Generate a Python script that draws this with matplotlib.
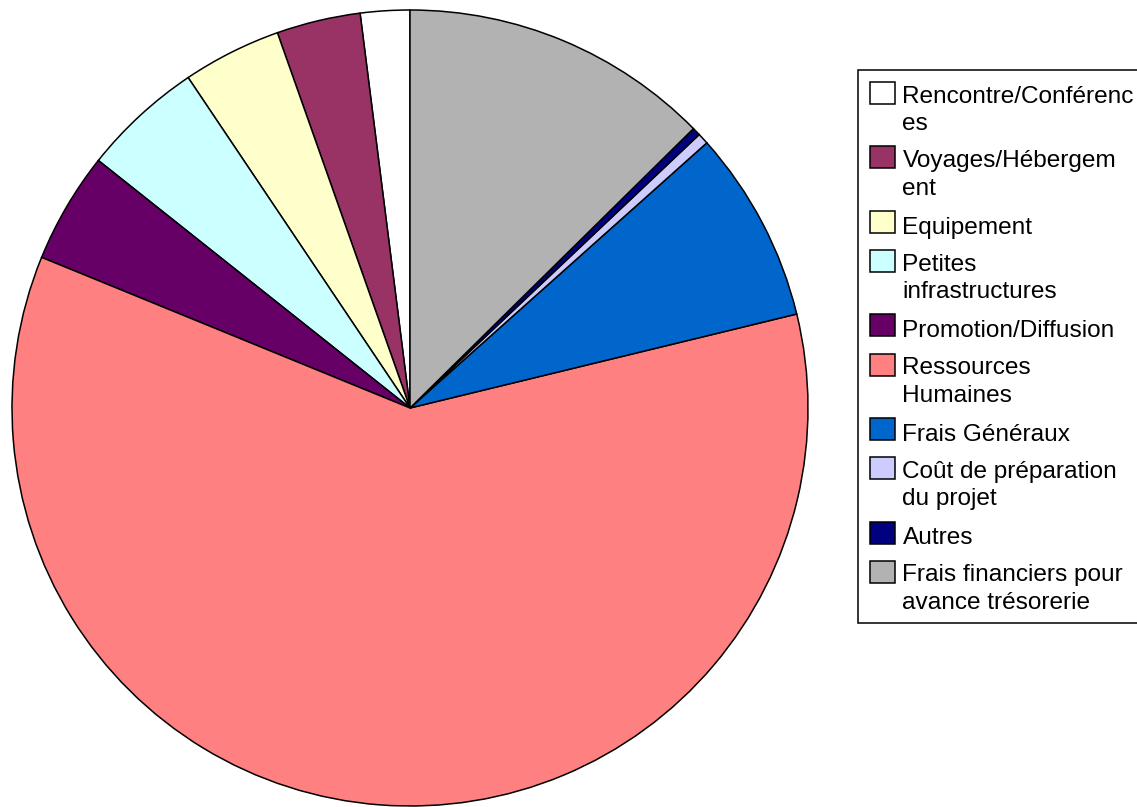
import matplotlib
matplotlib.use('Agg')
import matplotlib.pyplot as plt
from matplotlib.patches import Rectangle
from matplotlib.legend_handler import HandlerPatch

plt.rcParams['font.family'] = ['Liberation Sans', 'DejaVu Sans']

# postes de dépense, dans l'ordre de la légende
labels = ['Rencontre/Conférenc\nes', 'Voyages/Hébergem\nent', 'Equipement',
          'Petites\ninfrastructures', 'Promotion/Diffusion', 'Ressources\nHumaines',
          'Frais Généraux', 'Coût de préparation\ndu projet', 'Autres',
          'Frais financiers pour\navance trésorerie']
parts = [2.0, 3.4, 4.0, 4.9, 4.5, 59.9, 7.8, 0.45, 0.33, 12.6]
colors = ['#FFFFFF', '#993366', '#FFFFCC', '#CCFFFF', '#660066', '#FF8080',
          '#0066CC', '#CCCCFF', '#000080', '#B2B2B2']

W, H = 1137, 807
fig = plt.figure(figsize=(W / 100, H / 100), dpi=100)
ax = fig.add_axes([0, 0, 1, 1])

wedges, _ = ax.pie(parts, colors=colors, startangle=90, counterclock=True,
                   radius=398, center=(410, H - 408),
                   wedgeprops=dict(edgecolor='black', linewidth=1.1))
ax.set_xlim(0, W)
ax.set_ylim(0, H)
ax.set_aspect('equal')
ax.axis('off')

# la case de couleur se met en face de la première ligne du libellé
nlines = {w: lab.count('\n') + 1 for w, lab in zip(wedges, labels)}


def top_square(legend, orig_handle, xdescent, ydescent, width, height, fontsize):
    shift = 0.5 * (nlines[orig_handle] - 1) * 28 * 72 / 100
    return Rectangle((-xdescent, -ydescent + shift), width, height)


leg = fig.legend(wedges, labels, loc='upper left',
                 bbox_to_anchor=(858 / W, 1 - 70 / H),
                 fontsize=17.6, frameon=True, fancybox=False, shadow=False,
                 edgecolor='black', framealpha=1, borderpad=0.5,
                 handlelength=1.0, handleheight=1.0, handletextpad=0.32,
                 labelspacing=0.61, borderaxespad=0,
                 handler_map={w: HandlerPatch(patch_func=top_square) for w in wedges})
leg.get_frame().set_linewidth(1.1)
for t in leg.get_texts():
    t.set_linespacing(1.32)
    t.set_y(-3.5)

fig.savefig('out.png', dpi=100)
